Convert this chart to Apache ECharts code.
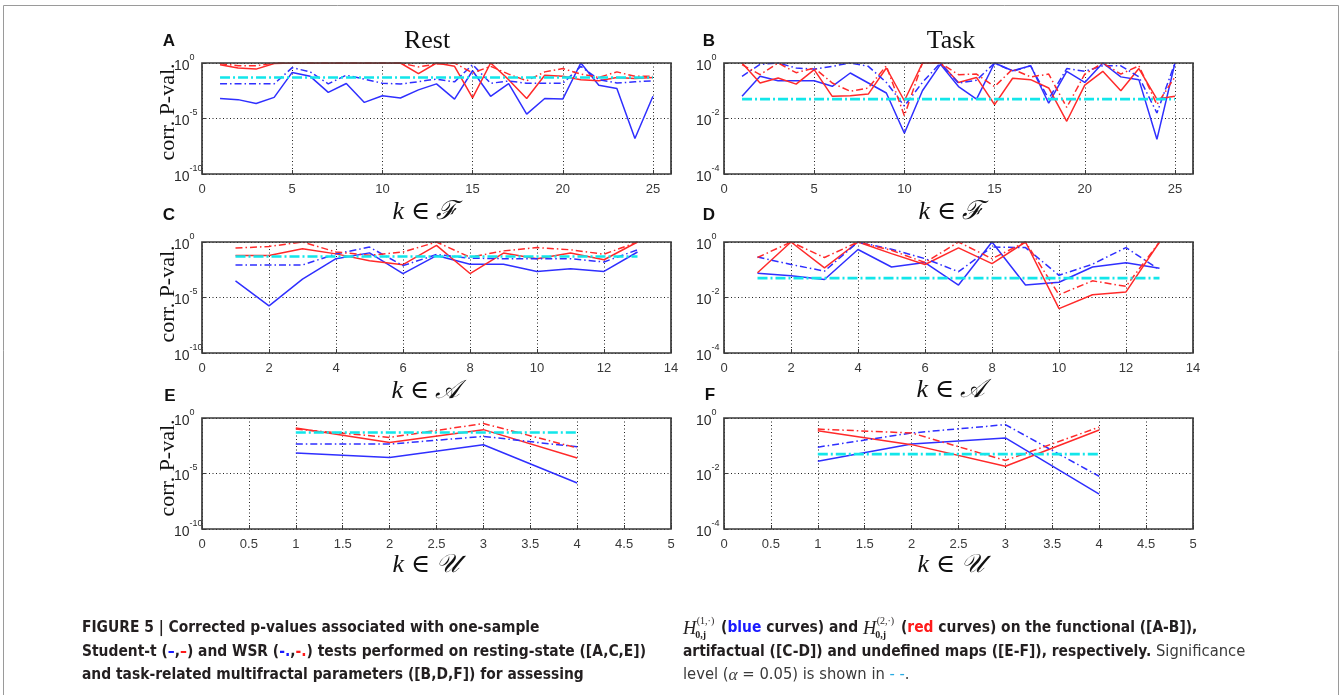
<!DOCTYPE html>
<html><head><meta charset="utf-8">
<script src="https://cdn.jsdelivr.net/npm/echarts@6/dist/echarts.min.js"></script>
<style>html,body{margin:0;padding:0;background:#fff}#c{width:1343px;height:695px}</style>
</head><body><div id="c"></div>
<script>
// ---------- categories ----------
const kF = [1,2,3,4,5,6,7,8,9,10,11,12,13,14,15,16,17,18,19,20,21,22,23,24,25];
const kA = [1,2,3,4,5,6,7,8,9,10,11,12,13];
const kU = [1,2,3,4];
const alphaLevel = 0.05;
// ---------- values as log10(p) ----------
// Panel A (Rest, functional)
const blueT_A = [-3.2,-3.3,-3.65,-3.1,-0.85,-1.2,-2.65,-1.85,-3.55,-2.95,-3.15,-2.42,-1.88,-3.25,-0.7,-3.0,-1.85,-4.6,-3.2,-3.25,0,-2.0,-2.3,-6.8,-3.0];
const blueW_A = [-1.88,-1.88,-1.88,-1.88,-0.42,-0.8,-1.88,-1.1,-1.45,-1.82,-1.9,-1.68,-1.45,-1.7,-0.15,-1.83,-1.62,-1.83,-1.83,-1.83,-0.3,-1.5,-1.8,-1.7,-1.6];
const redT_A  = [-0.15,-0.45,-0.55,-0.05,0,0,0,0,0,0,0,-0.95,0,-0.3,-3.15,0,-1.5,-3.2,-1.1,-1.2,-1.5,-1.6,-1.3,-1.4,-1.3];
const redW_A  = [-0.05,-0.25,-0.25,0,0,0,0,0,0,0,0,-0.35,-0.1,0,-0.9,-0.3,-1.0,-1.6,-0.8,-0.5,-1.0,-1.3,-0.8,-1.2,-1.2];
// Panel B (Task, functional)
const blueT_B = [-1.2,-0.48,-0.64,-0.64,-0.64,-0.84,-0.36,-0.72,-1.08,-2.53,-1.0,-0.05,-0.85,-1.3,0,-0.28,-0.1,-1.45,-0.3,-0.7,0,-0.5,-0.6,-2.75,0];
const blueW_B = [-0.48,-0.05,0,-0.18,-0.22,-0.12,0,-0.12,-0.7,-1.55,-0.7,0,-0.73,-0.62,0,-0.3,-0.1,-1.3,-0.2,-0.3,-0.1,-0.1,-0.5,-1.8,0];
const redT_B  = [0,-0.72,-0.54,-0.76,-0.24,-1.2,-1.18,-1.12,-0.18,-1.36,0,0,-0.7,-0.52,-1.5,-0.55,-0.6,-0.9,-2.1,-0.8,-0.3,-1.0,-0.2,-1.3,-1.2];
const redW_B  = [-0.06,-0.42,0,-0.35,-0.18,-0.72,-1.02,-0.9,-0.1,-1.9,0,0,-0.42,-0.4,-0.85,-0.22,-0.5,-0.4,-1.6,-0.4,0,-0.4,-0.1,-1.5,-0.5];
// Panel C (Rest, artifactual)
const blueT_C = [-3.5,-5.75,-3.35,-1.5,-0.98,-2.85,-1.22,-2.0,-2.0,-2.65,-2.4,-2.65,-0.9];
const blueW_C = [-2.07,-2.07,-2.07,-1.07,-0.46,-2.13,-1.13,-1.46,-1.5,-1.5,-1.5,-1.8,-0.7];
const redT_C  = [-1.22,-1.22,-0.6,-1.07,-1.68,-2.04,-0.3,-2.84,-1.0,-1.5,-1.0,-1.6,0];
const redW_C  = [-0.55,-0.4,0,-0.9,-1.2,-0.9,0,-1.37,-0.8,-0.5,-0.7,-1.1,0];
// Panel D (Task, artifactual)
const blueT_D = [-1.13,-1.22,-1.35,-0.27,-0.9,-0.74,-1.55,0,-1.55,-1.45,-0.9,-0.75,-0.95];
const blueW_D = [-0.54,-0.81,-1.05,0,-0.26,-0.6,-1.07,-0.18,-0.2,-1.2,-0.8,-0.2,-1.0];
const redT_D  = [-1.11,0,-0.93,0,-0.42,-0.81,-0.21,-0.78,0,-2.4,-1.9,-1.8,0];
const redW_D  = [-0.56,0,-0.56,0,-0.3,-0.74,0,-0.6,0,-1.9,-1.4,-1.6,0];
// Panel E (Rest, undefined)
const blueT_E = [-3.16,-3.55,-2.41,-5.85];
const blueW_E = [-2.35,-2.35,-1.66,-2.6];
const redT_E  = [-0.9,-2.2,-1.05,-3.6];
const redW_E  = [-1.0,-1.75,-0.5,-2.7];
// Panel F (Task, undefined)
const blueT_F = [-1.56,-0.94,-0.72,-2.74];
const blueW_F = [-1.05,-0.54,-0.24,-2.1];
const redT_F  = [-0.46,-0.96,-1.74,-0.43];
const redW_F  = [-0.4,-0.54,-1.53,-0.33];

// ---------- layout ----------
const BLUE = '#2f2fff', RED = '#ff2a2a', CYAN = '#12e6ea';
const panels = [
  {left:202, top:63,  width:469, ks:kF, xmax:26, xint:5,   ymin:1e-10, yint:5, s:[blueT_A,blueW_A,redT_A,redW_A]},
  {left:724, top:63,  width:469, ks:kF, xmax:26, xint:5,   ymin:1e-4,  yint:2, s:[blueT_B,blueW_B,redT_B,redW_B]},
  {left:202, top:242, width:469, ks:kA, xmax:14, xint:2,   ymin:1e-10, yint:5, s:[blueT_C,blueW_C,redT_C,redW_C]},
  {left:724, top:242, width:469, ks:kA, xmax:14, xint:2,   ymin:1e-4,  yint:2, s:[blueT_D,blueW_D,redT_D,redW_D]},
  {left:202, top:418, width:469, ks:kU, xmax:5,  xint:0.5, ymin:1e-10, yint:5, s:[blueT_E,blueW_E,redT_E,redW_E]},
  {left:724, top:418, width:469, ks:kU, xmax:5,  xint:0.5, ymin:1e-4,  yint:2, s:[blueT_F,blueW_F,redT_F,redW_F]}
];
const H = 111;
const SANS = '"Liberation Sans", Arial, sans-serif';
const SERIF = '"Liberation Serif", "DejaVu Serif", serif';
const grids = [], xAxes = [], yAxes = [], series = [];
const DASHDOT = [7,3,1.5,3];
const g = [];
panels.forEach((p, i) => {
  grids.push({left:p.left, top:p.top, width:p.width, height:H, show:false});
  g.push({type:'rect', z:100, silent:true, shape:{x:p.left, y:p.top, width:p.width, height:H},
    style:{fill:'none', stroke:'#3a3a3a', lineWidth:1.7}});
  xAxes.push({gridIndex:i, type:'value', min:0, max:p.xmax, interval:p.xint,
    axisLine:{show:false}, axisTick:{show:true, inside:true, length:4, lineStyle:{color:'#3c3c3c'}},
    axisLabel:{color:'#3a3a3a', fontSize:13, fontFamily:SANS, margin:9,
      formatter: v => (Math.abs(v/p.xint - Math.round(v/p.xint)) < 1e-6 ? String(v) : '')},
    splitLine:{show:true, lineStyle:{color:'#222', type:[1,2.5], width:1}}});
  yAxes.push({gridIndex:i, type:'log', logBase:10, min:p.ymin, max:1, interval:p.yint,
    axisLine:{show:false}, axisTick:{show:true, inside:true, length:4, lineStyle:{color:'#3c3c3c'}},
    axisLabel:{align:'left', margin:28, formatter: v => '{h|\u200b}{b|10}{s|' + Math.round(Math.log10(v)) + '}',
      rich:{h:{fontSize:2, lineHeight:20},
            b:{fontSize:14, fontFamily:SANS, color:'#2a2a2a', lineHeight:14, verticalAlign:'bottom'},
            s:{fontSize:9, fontFamily:SANS, color:'#2a2a2a', lineHeight:6, verticalAlign:'top'}}},
    splitLine:{show:true, lineStyle:{color:'#222', type:[1,2.5], width:1}}});
  const styles = [
    {c:BLUE, t:'solid'}, {c:BLUE, t:DASHDOT}, {c:RED, t:'solid'}, {c:RED, t:DASHDOT}
  ];
  [0,2,1,3].forEach(j => {
    series.push({type:'line', xAxisIndex:i, yAxisIndex:i, symbol:'none', animation:false, silent:true,
      data: p.ks.map((k, n) => [k, Math.pow(10, p.s[j][n])]),
      lineStyle:{color:styles[j].c, width:1.5, type:styles[j].t}});
  });
  series.push({type:'line', xAxisIndex:i, yAxisIndex:i, symbol:'none', animation:false, silent:true,
    data: [[p.ks[0], alphaLevel], [p.ks[p.ks.length-1], alphaLevel]],
    lineStyle:{color:CYAN, width:2.6, type:[10,3,2,3]}});
});

// ---------- texts ----------
g.push({type:'rect', shape:{x:3.5, y:5.5, width:1335, height:710}, style:{fill:'none', stroke:'#9a9a9a', lineWidth:1}, z:0});
function txt(x, y, t, font, extra) {
  g.push(Object.assign({type:'text', x:x, y:y, style:{text:t, font:font, fill:'#111', align:'center', verticalAlign:'middle'}}, extra||{}));
}
const LET = 'bold 17px ' + SANS;
txt(169,41,'A',LET); txt(709,41,'B',LET); txt(169,215,'C',LET); txt(709,215,'D',LET); txt(170,396,'E',LET); txt(710,395,'F',LET);
txt(427,41,'Rest','26px ' + SERIF); txt(951,41,'Task','26px ' + SERIF);
[112,294,468].forEach(y => txt(168, y, 'corr. P-val.', '22px ' + SERIF, {rotation:Math.PI/2}));
const XL = 'italic 26px ' + SERIF;
txt(425,212,'k ∈ ℱ',XL); txt(951,212,'k ∈ ℱ',XL);
txt(426,391,'k ∈ 𝒜',XL); txt(951,390,'k ∈ 𝒜',XL);
txt(426,565,'k ∈ 𝒰',XL); txt(951,565,'k ∈ 𝒰',XL);

// ---------- caption ----------
const mctx = document.createElement('canvas').getContext('2d');
function tw(t, f) { mctx.font = f; return mctx.measureText(t).width; }
const CAPFAM = '"Liberation Sans Narrow", "DejaVu Sans Condensed", "Liberation Sans", Arial, sans-serif';
const line1 = 'FIGURE 5 | Corrected p-values associated with one-sample';
let fs = 15 * 458 / tw(line1, 'bold 15px ' + CAPFAM);
fs = Math.max(12, Math.min(18, fs));
const B = 'bold ' + fs.toFixed(2) + 'px ' + CAPFAM;
const N = (fs + 1).toFixed(2) + 'px ' + CAPFAM;
const TXT = '#231f20';
function runs(x, y, list) {
  let cx = x;
  list.forEach(r => {
    if (r.h) {
      const hf = 'italic ' + (fs + 3).toFixed(1) + 'px ' + SERIF;
      const sf = '10px ' + SERIF, bf = 'bold 10px ' + SERIF;
      g.push({type:'text', x:cx, y:y+1, style:{text:'H', font:hf, fill:TXT, align:'left', verticalAlign:'middle'}});
      const w = tw('H', hf) + 0.5;
      g.push({type:'text', x:cx+w, y:y-7, style:{text:r.h, font:sf, fill:TXT, align:'left', verticalAlign:'middle'}});
      g.push({type:'text', x:cx+w-1.5, y:y+7, style:{text:'0,j', font:bf, fill:TXT, align:'left', verticalAlign:'middle'}});
      cx += w + Math.max(tw(r.h, sf), tw('0,j', bf)) + 2;
    } else {
      g.push({type:'text', x:cx, y:y, style:{text:r.t, font:r.f, fill:r.c||TXT, align:'left', verticalAlign:'middle'}});
      cx += tw(r.t, r.f);
    }
  });
}
runs(82, 628, [{t:line1, f:B}]);
runs(82, 652, [{t:'Student-t (', f:B}, {t:'–', f:B, c:'#1a1aff'}, {t:',', f:B}, {t:'–', f:B, c:'#ff1a1a'},
  {t:') and WSR (', f:B}, {t:'-.', f:B, c:'#1a1aff'}, {t:',', f:B}, {t:'-.', f:B, c:'#ff1a1a'},
  {t:') tests performed on resting-state ([A,C,E])', f:B}]);
runs(82, 675, [{t:'and task-related multifractal parameters ([B,D,F]) for assessing', f:B}]);
runs(683, 628, [{h:'(1,·)'}, {t:' (', f:B}, {t:'blue', f:B, c:'#1a1aff'}, {t:' curves) and ', f:B}, {h:'(2,·)'},
  {t:' (', f:B}, {t:'red', f:B, c:'#ff1a1a'}, {t:' curves) on the functional ([A-B]),', f:B}]);
runs(683, 652, [{t:'artifactual ([C-D]) and undefined maps ([E-F]), respectively.', f:B}, {t:' Significance', f:N, c:'#3a3a3a'}]);
runs(683, 675, [{t:'level (', f:N, c:'#3a3a3a'}, {t:'α', f:'italic ' + (fs+2).toFixed(1) + 'px ' + SERIF, c:'#3a3a3a'},
  {t:' = 0.05) is shown in ', f:N, c:'#3a3a3a'}, {t:'- -', f:N, c:'#29abe2'}, {t:'.', f:N, c:'#3a3a3a'}]);

const chart = echarts.init(document.getElementById('c'), null, {renderer:'canvas'});
chart.setOption({animation:false, backgroundColor:'#fff', grid:grids, xAxis:xAxes, yAxis:yAxes, series:series, graphic:g});
</script></body></html>
